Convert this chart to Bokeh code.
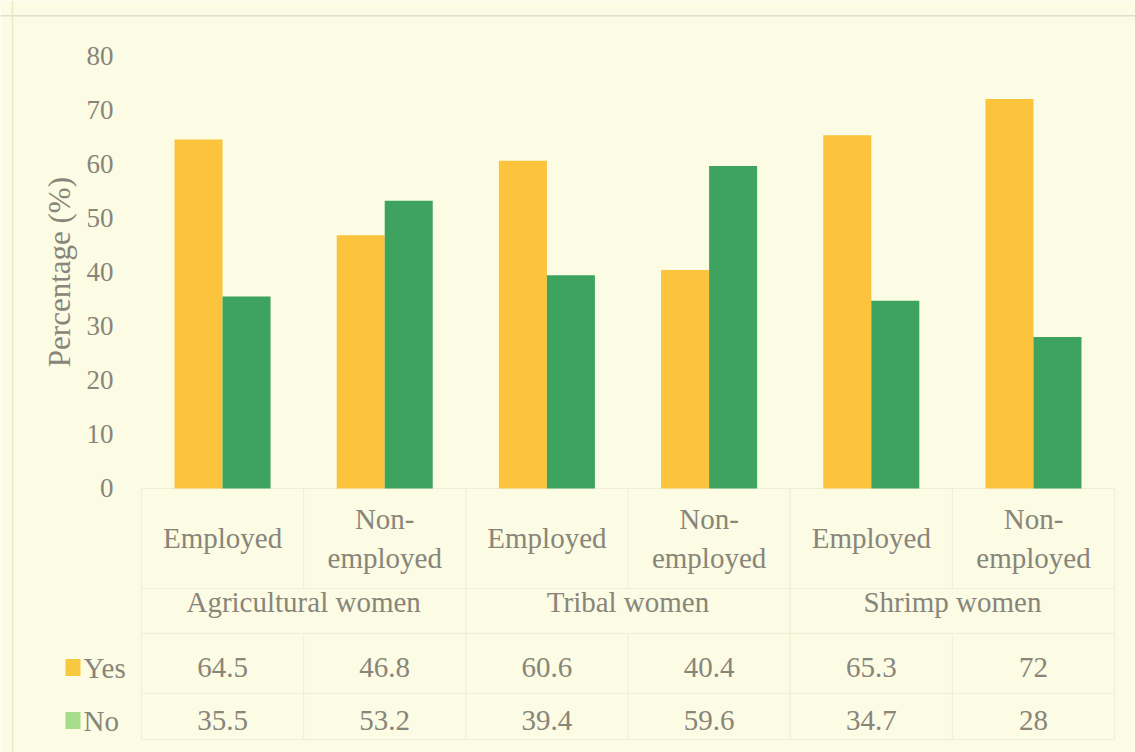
from bokeh.plotting import figure
from bokeh.models import ColumnDataSource, Range1d, Span
from bokeh.transform import dodge
from bokeh.core.properties import value
from bokeh.embed import file_html
from bokeh.resources import INLINE

# ---- data ----
categories = ["Employed", "Non-employed", "Employed", "Non-employed", "Employed", "Non-employed"]
groups = ["Agricultural women", "Tribal women", "Shrimp women"]
series = ["Yes", "No"]
yes_pct = [64.5, 46.8, 60.6, 40.4, 65.3, 72]
no_pct = [35.5, 53.2, 39.4, 59.6, 34.7, 28]
y_ticks = [0, 10, 20, 30, 40, 50, 60, 70, 80]

# ---- styling ----
BG = "#fcfbe3"
YELLOW = "#fcc33c"
GREEN = "#3da35f"
KEY_COLORS = ["#f8c840", "#a6dc8a"]
TEXT = "#88857a"
GRID = "#f0eed6"
FONT = value("'Liberation Serif', 'Times New Roman', serif")
FS = "29px"

W, H = 1135, 752
# layout in data units: one category per x unit, y in percent
X0, X1 = -1.369, 5.629
Y0, Y1 = -48.8, 90.2

p = figure(width=W, height=H, x_range=Range1d(X0, X1), y_range=Range1d(Y0, Y1),
           output_backend="svg", toolbar_location=None, min_border=0,
           background_fill_color=BG, border_fill_color=BG, outline_line_color=None)
p.axis.visible = False
p.grid.visible = False

xs = list(range(len(categories)))
src = ColumnDataSource(dict(x=xs, yes=yes_pct, no=no_pct,
                            yes_txt=[f"{v:g}" for v in yes_pct],
                            no_txt=[f"{v:g}" for v in no_pct]))

# chart border
p.add_layout(Span(location=87.4, dimension="width", line_color="#e2e0ca", line_width=1.5))
p.add_layout(Span(location=-1.295, dimension="height", line_color="#eae8d1", line_width=1.5))

# data-table grid: category row, group row, then the two value rows
edges = [i - 0.5 for i in range(len(categories) + 1)]
group_edges = edges[::2]
row_y = [-33.1, -42.9]
CAT_BOTTOM, GROUP_BOTTOM, TABLE_BOTTOM = -18.5, -26.8, -46.4
row_lines = [0, CAT_BOTTOM, GROUP_BOTTOM, -37.9, TABLE_BOTTOM]
p.segment(x0=[edges[0]] * len(row_lines), x1=[edges[-1]] * len(row_lines),
          y0=row_lines, y1=row_lines, line_color=GRID, line_width=1)
p.segment(x0=edges, x1=edges, y0=[0] * len(edges), y1=[CAT_BOTTOM] * len(edges),
          line_color=GRID, line_width=1)
p.segment(x0=group_edges, x1=group_edges, y0=[CAT_BOTTOM] * len(group_edges),
          y1=[GROUP_BOTTOM] * len(group_edges), line_color=GRID, line_width=1)
p.segment(x0=edges, x1=edges, y0=[GROUP_BOTTOM] * len(edges), y1=[TABLE_BOTTOM] * len(edges),
          line_color=GRID, line_width=1)

# bars
bw = 0.296
p.vbar(x=dodge("x", -bw / 2, range=p.x_range), top="yes", width=bw, bottom=0,
       source=src, fill_color=YELLOW, line_color=None)
p.vbar(x=dodge("x", bw / 2, range=p.x_range), top="no", width=bw, bottom=0,
       source=src, fill_color=GREEN, line_color=None)

# y tick labels
p.text(x=[-0.672] * len(y_ticks), y=y_ticks, text=[str(t) for t in y_ticks],
       text_font=FONT, text_font_size="27px", text_color=TEXT,
       text_align="right", text_baseline="middle")
p.text(x=[-1.005], y=[40], text=["Percentage (%)"], angle=1.5708,
       text_font=FONT, text_font_size="31px", text_color=TEXT,
       text_align="center", text_baseline="middle")

# category labels (hyphenated names wrap after the hyphen)
one_x, one_y, one_t = [], [], []
for i, name in enumerate(categories):
    if "-" in name:
        head, tail = name.split("-", 1)
        one_x += [i, i]
        one_y += [-5.55, -12.94]
        one_t += [head + "-", tail]
    else:
        one_x.append(i)
        one_y.append(-9.06)
        one_t.append(name)
p.text(x=one_x, y=one_y, text=one_t, text_font=FONT, text_font_size=FS,
       text_color=TEXT, text_align="center", text_baseline="middle")

# group labels
gx = [2 * g + 0.5 for g in range(len(groups))]
p.text(x=gx, y=[-21.07] * len(groups), text=groups, text_font=FONT, text_font_size=FS,
       text_color=TEXT, text_align="center", text_baseline="middle")

# data table rows
p.text(x="x", y=row_y[0], text="yes_txt", source=src, text_font=FONT, text_font_size=FS,
       text_color=TEXT, text_align="center", text_baseline="middle")
p.text(x="x", y=row_y[1], text="no_txt", source=src, text_font=FONT, text_font_size=FS,
       text_color=TEXT, text_align="center", text_baseline="middle")

# legend keys in the table
p.rect(x=[-0.922] * 2, y=row_y, width=15, height=17, width_units="screen",
       height_units="screen", fill_color=KEY_COLORS, line_color=None)
p.text(x=[-0.857] * 2, y=row_y, text=series, text_font=FONT, text_font_size=FS,
       text_color=TEXT, text_align="left", text_baseline="middle")

open("out.html", "w").write(file_html(p, INLINE))
